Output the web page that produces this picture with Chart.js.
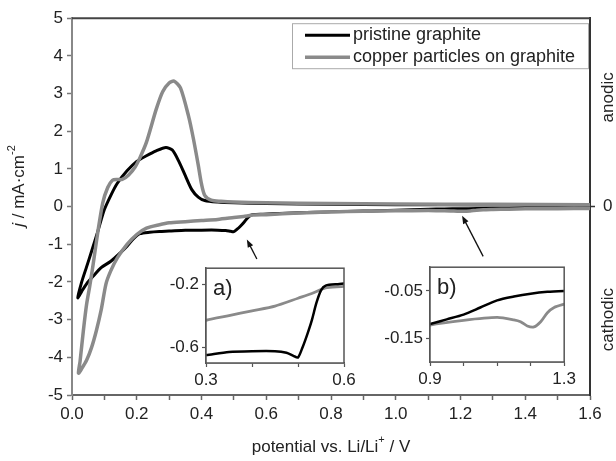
<!DOCTYPE html>
<html lang="en">

<head>
  <meta charset="utf-8" />
  <title>Cyclic voltammetry - graphite vs copper on graphite</title>
  <script src="https://cdn.jsdelivr.net/npm/chart.js@4.4.1/dist/chart.umd.min.js"></script>
  <style>
    body { margin: 0; background: #fff; }
    #wrap { position: relative; width: 616px; height: 461px; }
    canvas { position: absolute; }
    #main { left: 0; top: 0; }
    #insetA { left: 156px; top: 255px; }
    #insetB { left: 374px; top: 254px; }
  </style>
</head>

<body>
  <div id="wrap">
    <canvas id="main" width="616" height="461"></canvas>
    <canvas id="insetA" width="204" height="135"></canvas>
    <canvas id="insetB" width="205" height="136"></canvas>
  </div>

  <script>
    // pristine graphite: cathodic sweep 1.6 -> 0.02 V, then anodic back to 1.6 V
    const potentialBlack = [
      1.60, 1.50, 1.40, 1.30, 1.25, 1.20, 1.15, 1.10, 1.05, 1.00, 0.95, 0.90, 0.80, 0.70, 0.62, 0.59, 0.56, 0.55,
      0.54, 0.53, 0.52, 0.51, 0.50, 0.49, 0.475, 0.45, 0.40, 0.35, 0.30, 0.27, 0.24, 0.21, 0.19, 0.17, 0.15, 0.12,
      0.09, 0.065, 0.045, 0.03, 0.018,
      0.03, 0.045, 0.06, 0.08, 0.10, 0.12, 0.14, 0.17, 0.20, 0.23, 0.26, 0.29, 0.31, 0.33, 0.35, 0.37, 0.39, 0.41,
      0.45, 0.50, 0.60, 0.80, 1.00, 1.30, 1.60
    ];
    const currentBlack = [
      -0.04, -0.045, -0.047, -0.05, -0.052, -0.056, -0.062, -0.07, -0.085, -0.10, -0.11, -0.12, -0.14, -0.16, -0.19, -0.20, -0.21, -0.24,
      -0.32, -0.43, -0.52, -0.60, -0.665, -0.655, -0.635, -0.625, -0.625, -0.63, -0.65, -0.66, -0.68, -0.72, -0.85, -1.05, -1.22, -1.45,
      -1.62, -1.85, -2.05, -2.25, -2.42,
      -2.0, -1.6, -1.2, -0.65, -0.08, 0.3, 0.62, 0.95, 1.2, 1.35, 1.48, 1.57, 1.5, 1.2, 0.82, 0.45, 0.25, 0.16,
      0.12, 0.10, 0.08, 0.06, 0.05, 0.045, 0.04
    ];

    // copper particles on graphite
    const potentialGray = [
      1.60, 1.50, 1.40, 1.35, 1.30, 1.27, 1.25, 1.23, 1.21, 1.19, 1.17, 1.15, 1.10, 1.00, 0.90, 0.80, 0.70, 0.60,
      0.56, 0.53, 0.50, 0.45, 0.40, 0.35, 0.30, 0.27, 0.23, 0.20, 0.17, 0.14, 0.12, 0.105, 0.09, 0.075, 0.06, 0.045,
      0.03, 0.02,
      0.025, 0.035, 0.045, 0.055, 0.065, 0.08, 0.095, 0.11, 0.125, 0.14, 0.155, 0.175, 0.195, 0.21, 0.23, 0.26,
      0.28, 0.30, 0.315, 0.335, 0.36, 0.375, 0.39, 0.40, 0.41, 0.43, 0.46, 0.50, 0.60, 0.80, 1.00, 1.30, 1.60
    ];
    const currentGray = [
      -0.05, -0.055, -0.06, -0.068, -0.078, -0.085, -0.096, -0.115, -0.126, -0.124, -0.115, -0.111, -0.106, -0.112, -0.122, -0.14, -0.17, -0.215,
      -0.225, -0.26, -0.29, -0.34, -0.37, -0.40, -0.43, -0.48, -0.57, -0.74, -1.0, -1.36, -1.7, -2.05, -2.75, -3.3, -3.75, -4.08,
      -4.3, -4.42,
      -4.1, -3.3, -2.6, -2.1, -1.55, -0.66, 0.1, 0.5, 0.7, 0.72, 0.72, 0.84, 1.05, 1.3, 1.71, 2.58,
      3.05, 3.28, 3.33, 3.15, 2.4, 1.8, 1.1, 0.6, 0.3, 0.17, 0.14, 0.12, 0.10, 0.08, 0.07, 0.06, 0.05
    ];

    const seriesLabels = ["pristine graphite", "copper particles on graphite"];
    const seriesColors = ["#000000", "#8a8a8a"];

    // tick values
    const xTicksMain = [0, 0.1, 0.2, 0.3, 0.4, 0.5, 0.6, 0.7, 0.8, 0.9, 1.0, 1.1, 1.2, 1.3, 1.4, 1.5, 1.6];
    const yTicksMain = [-5, -4, -3, -2, -1, 0, 1, 2, 3, 4, 5];
    const insetAXTicks = [0.3, 0.4, 0.5, 0.6];
    const insetAXLabels = [0.3, 0.6];
    const insetAYTicks = [-0.2, -0.6];
    const insetBXTicks = [0.9, 1.0, 1.1, 1.2, 1.3];
    const insetBXLabels = [0.9, 1.3];
    const insetBYTicks = [-0.05, -0.15];

    // arrows from insets to the zoomed regions (data units of main plot)
    const arrowTails = [[0.571, -1.39], [1.27, -1.32]];
    const arrowTips = [[0.54, -0.87], [1.205, -0.24]];

    const FONT = "'Liberation Sans', Arial, sans-serif";
    const toPoints = (xs, ys) => xs.map((x, i) => ({ x: x, y: ys[i] }));

    // order: lower number is drawn on top
    const datasets = (blackOrder, grayOrder) => [
      {
        label: seriesLabels[0], data: toPoints(potentialBlack, currentBlack), showLine: true, order: blackOrder,
        borderColor: seriesColors[0], borderWidth: 3, pointRadius: 0, tension: 0.25
      },
      {
        label: seriesLabels[1], data: toPoints(potentialGray, currentGray), showLine: true, order: grayOrder,
        borderColor: seriesColors[1], borderWidth: 3.5, pointRadius: 0, tension: 0.25
      }
    ];

    // top border, legend, arrows, axis titles, right labels
    const mainDecor = {
      id: "mainDecor",
      afterDatasetsDraw(chart) {
        const ctx = chart.ctx;
        const a = chart.chartArea;
        const xs = chart.scales.x, ys = chart.scales.y;
        ctx.save();
        // top frame line
        ctx.strokeStyle = "#444";
        ctx.lineWidth = 2;
        ctx.beginPath();
        ctx.moveTo(a.left, a.top);
        ctx.lineTo(a.right, a.top);
        ctx.stroke();

        // arrows
        ctx.strokeStyle = "#111";
        ctx.fillStyle = "#111";
        ctx.lineWidth = 1.3;
        arrowTails.forEach((t, i) => {
          const x0 = xs.getPixelForValue(t[0]), y0 = ys.getPixelForValue(t[1]);
          const x1 = xs.getPixelForValue(arrowTips[i][0]), y1 = ys.getPixelForValue(arrowTips[i][1]);
          const ang = Math.atan2(y1 - y0, x1 - x0);
          ctx.beginPath();
          ctx.moveTo(x0, y0);
          ctx.lineTo(x1 - 5 * Math.cos(ang), y1 - 5 * Math.sin(ang));
          ctx.stroke();
          ctx.beginPath();
          ctx.moveTo(x1, y1);
          ctx.lineTo(x1 - 8 * Math.cos(ang) + 3 * Math.sin(ang), y1 - 8 * Math.sin(ang) - 3 * Math.cos(ang));
          ctx.lineTo(x1 - 8 * Math.cos(ang) - 3 * Math.sin(ang), y1 - 8 * Math.sin(ang) + 3 * Math.cos(ang));
          ctx.closePath();
          ctx.fill();
        });

        // legend box (entries in dataset index order)
        const lw = 296, lh = 45;
        const lx = a.right - 2 - lw, ly = a.top + 5;
        ctx.fillStyle = "#fff";
        ctx.fillRect(lx, ly, lw, lh);
        ctx.strokeStyle = "#aaa";
        ctx.lineWidth = 1;
        ctx.strokeRect(lx + 0.5, ly + 0.5, lw, lh);
        ctx.font = "18px " + FONT;
        ctx.textBaseline = "middle";
        chart.data.datasets.forEach((ds, i) => {
          const yy = ly + 12 + i * 22;
          ctx.strokeStyle = ds.borderColor;
          ctx.lineWidth = ds.borderWidth;
          ctx.beginPath();
          ctx.moveTo(lx + 13, yy);
          ctx.lineTo(lx + 58, yy);
          ctx.stroke();
          ctx.fillStyle = "#222";
          ctx.textAlign = "left";
          ctx.fillText(ds.label, lx + 61, yy);
        });

        // right side labels
        const y2 = chart.scales.y2;
        ctx.fillStyle = "#222";
        ctx.font = "17px " + FONT;
        ctx.textAlign = "center";
        [["anodic", 2.9], ["cathodic", -3]].forEach(([txt, v]) => {
          ctx.save();
          ctx.translate(608, y2.getPixelForValue(v));
          ctx.rotate(-Math.PI / 2);
          ctx.fillText(txt, 0, 0);
          ctx.restore();
        });

        // y title: j / mA·cm^-2
        ctx.save();
        ctx.translate(19, 186);
        ctx.rotate(-Math.PI / 2);
        ctx.textAlign = "left";
        ctx.textBaseline = "middle";
        const fI = "italic 17px " + FONT, fN = "17px " + FONT, fS = "11px " + FONT;
        ctx.font = fI; const w1 = ctx.measureText("j").width;
        ctx.font = fN; const w2 = ctx.measureText(" / mA·cm").width;
        ctx.font = fS; const w3 = ctx.measureText("-2").width;
        let px = -(w1 + w2 + w3) / 2;
        ctx.font = fI; ctx.fillText("j", px, 0); px += w1;
        ctx.font = fN; ctx.fillText(" / mA·cm", px, 0); px += w2;
        ctx.font = fS; ctx.fillText("-2", px, -7);
        ctx.restore();

        // x title: potential vs. Li/Li+ / V
        ctx.textBaseline = "middle";
        ctx.textAlign = "left";
        ctx.font = fN; const t1 = ctx.measureText("potential vs. Li/Li").width;
        ctx.font = fS; const t2 = ctx.measureText("+").width;
        ctx.font = fN; const t3 = ctx.measureText(" / V").width;
        let qx = (a.left + a.right) / 2 - (t1 + t2 + t3) / 2;
        const qy = 447;
        ctx.font = fN; ctx.fillText("potential vs. Li/Li", qx, qy); qx += t1;
        ctx.font = fS; ctx.fillText("+", qx, qy - 7); qx += t2;
        ctx.font = fN; ctx.fillText(" / V", qx, qy);
        ctx.restore();
      }
    };

    new Chart(document.getElementById("main"), {
      type: "scatter",
      data: { datasets: datasets(1, 0) },
      options: {
        responsive: false,
        animation: false,
        events: [],
        layout: { padding: { top: 15, left: 0, right: 0, bottom: 0 } },
        plugins: { legend: { display: false }, tooltip: { enabled: false } },
        scales: {
          x: {
            type: "linear", min: 0, max: 1.6,
            afterBuildTicks: s => { s.ticks = xTicksMain.map(v => ({ value: v })); },
            afterFit: s => { s.height = 66; },
            ticks: {
              autoSkip: false, maxRotation: 0, padding: 4, color: "#222",
              font: { family: FONT, size: 17 },
              callback: (v, i) => (i % 2 === 0 ? v.toFixed(1) : "")
            },
            grid: { drawOnChartArea: false, tickLength: 5, tickColor: "#666", tickWidth: 1.5 },
            border: { color: "#666", width: 2 }
          },
          y: {
            type: "linear", min: -5, max: 5,
            afterBuildTicks: s => { s.ticks = yTicksMain.map(v => ({ value: v })); },
            afterFit: s => { s.width = 72; },
            ticks: { padding: 4, color: "#222", font: { family: FONT, size: 17 } },
            grid: { drawOnChartArea: false, tickLength: 5, tickColor: "#777", tickWidth: 1.5 },
            border: { color: "#888", width: 2 }
          },
          y2: {
            type: "linear", position: "right", min: -5, max: 5,
            afterBuildTicks: s => { s.ticks = [{ value: 0 }]; },
            afterFit: s => { s.width = 26; },
            ticks: { padding: 8, color: "#222", font: { family: FONT, size: 17 } },
            grid: { drawOnChartArea: false, tickLength: 5, tickColor: "#333", tickWidth: 1.5 },
            border: { color: "#333", width: 2 }
          }
        }
      },
      plugins: [mainDecor]
    });

    // inset charts: white box, frame and a)/b) label
    function makeInset(id, tag, xMin, xMax, yMin, yMax, xTicks, xLabels, yTicks, yWidth, rightPad, xHeight, decimals) {
      const insetDecor = {
        id: "insetDecor" + tag,
        beforeDatasetsDraw(chart) {
          const a = chart.chartArea, ctx = chart.ctx;
          ctx.save();
          ctx.fillStyle = "#fff";
          ctx.fillRect(a.left, a.top, a.right - a.left, a.bottom - a.top);
          ctx.restore();
        },
        afterDatasetsDraw(chart) {
          const a = chart.chartArea, ctx = chart.ctx;
          ctx.save();
          ctx.strokeStyle = "#555";
          ctx.lineWidth = 1.5;
          ctx.strokeRect(a.left, a.top, a.right - a.left, a.bottom - a.top);
          ctx.fillStyle = "#222";
          ctx.font = "22px " + FONT;
          ctx.textBaseline = "middle";
          ctx.textAlign = "left";
          ctx.fillText(tag + ")", a.left + 7, a.top + 21);
          ctx.restore();
        }
      };
      const ds = datasets(0, 1);
      ds[0].borderWidth = 2.5;
      ds[1].borderWidth = 2.8;
      return new Chart(document.getElementById(id), {
        type: "scatter",
        data: { datasets: ds },
        options: {
          responsive: false,
          animation: false,
          events: [],
          layout: { padding: { top: 8, right: rightPad, left: 0, bottom: 0 } },
          plugins: { legend: { display: false }, tooltip: { enabled: false } },
          scales: {
            x: {
              type: "linear", min: xMin, max: xMax,
              afterBuildTicks: s => { s.ticks = xTicks.map(v => ({ value: v })); },
              afterFit: s => { s.height = xHeight; },
              ticks: {
                autoSkip: false, maxRotation: 0, padding: 3, color: "#222",
                font: { family: FONT, size: 17 },
                callback: v => (xLabels.some(l => Math.abs(l - v) < 1e-6) ? v.toFixed(1) : "")
              },
              grid: { drawOnChartArea: false, tickLength: 4, tickColor: "#555", tickWidth: 1.2 },
              border: { color: "#555", width: 1.5 }
            },
            y: {
              type: "linear", min: yMin, max: yMax,
              afterBuildTicks: s => { s.ticks = yTicks.map(v => ({ value: v })); },
              afterFit: s => { s.width = yWidth; },
              ticks: {
                padding: 3, color: "#222", font: { family: FONT, size: 17 },
                callback: v => v.toFixed(decimals)
              },
              grid: { drawOnChartArea: false, tickLength: 4, tickColor: "#555", tickWidth: 1.2 },
              border: { color: "#555", width: 1.5 }
            }
          }
        },
        plugins: [insetDecor]
      });
    }

    makeInset("insetA", "a", 0.3, 0.6, -0.7, -0.1, insetAXTicks, insetAXLabels, insetAYTicks, 50, 16, 27, 1);
    makeInset("insetB", "b", 0.9, 1.3, -0.2, 0.0, insetBXTicks, insetBXLabels, insetBYTicks, 56, 14, 28, 2);
  </script>
</body>

</html>
